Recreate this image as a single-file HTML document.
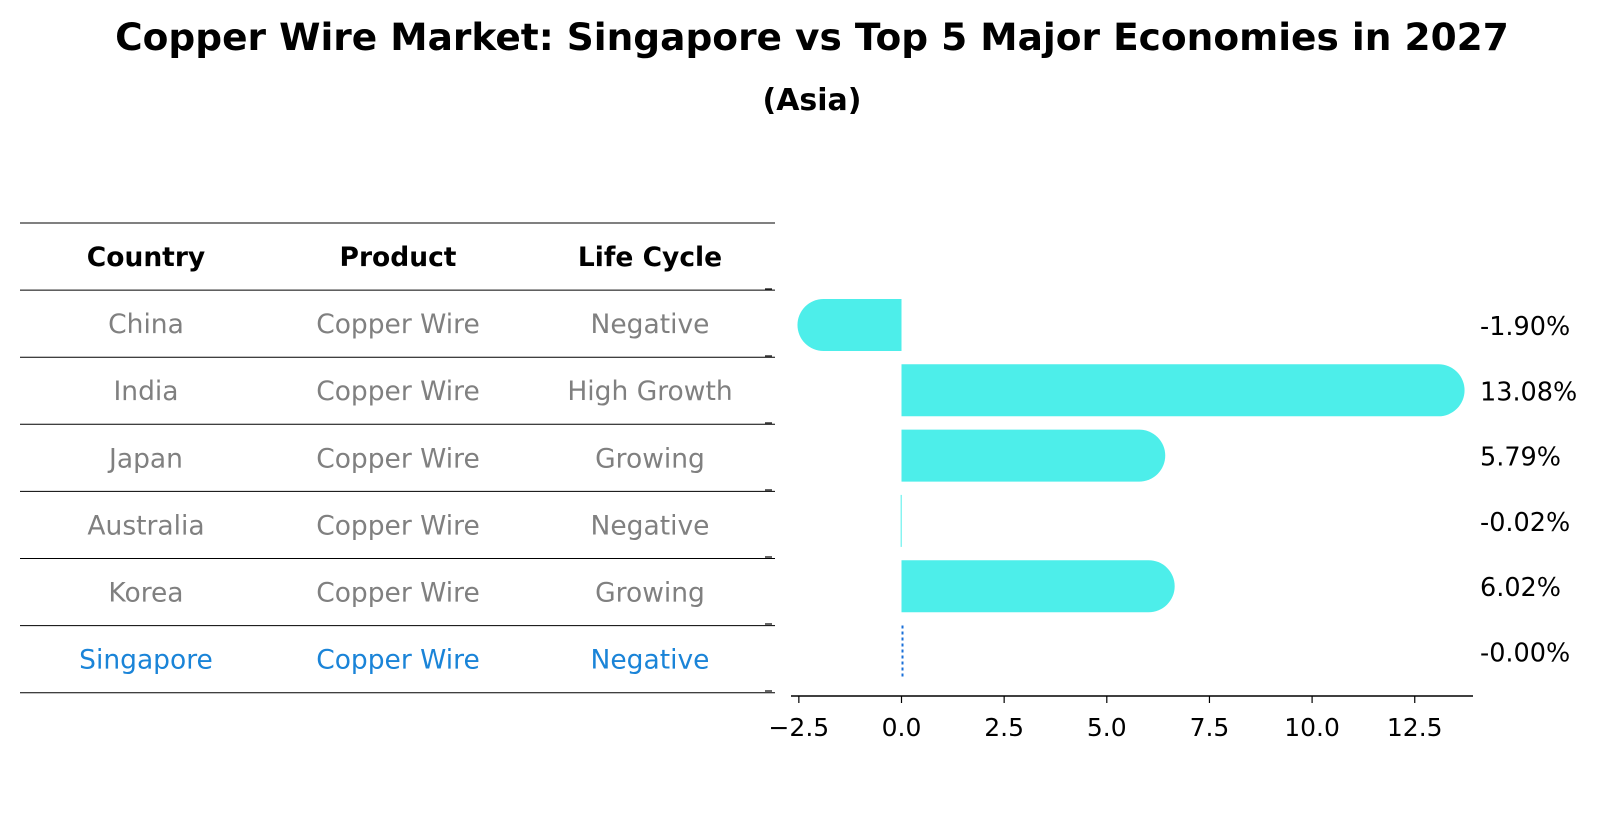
<!DOCTYPE html>
<html><head><meta charset="utf-8">
<style>
body{margin:0;background:#fff;font-family:"DejaVu Sans","Liberation Sans",sans-serif;}
svg text{font-family:"DejaVu Sans","Liberation Sans",sans-serif;}
</style></head>
<body>
<svg id="c" width="1604" height="823" xmlns="http://www.w3.org/2000/svg">
<text x="812" y="50" text-anchor="middle" font-size="37.5" font-weight="bold">Copper Wire Market: Singapore vs Top 5 Major Economies in 2027</text>
<text x="812" y="110" text-anchor="middle" font-size="30" font-weight="bold">(Asia)</text>
<g id="table"></g>
<g id="bars"></g>
</svg>
<script>
const countries=["China","India","Japan","Australia","Korea","Singapore"];
const products=["Copper Wire","Copper Wire","Copper Wire","Copper Wire","Copper Wire","Copper Wire"];
const lifecycle=["Negative","High Growth","Growing","Negative","Growing","Negative"];
const growth=[-1.90,13.08,5.79,-0.02,6.02,-0.00];
const xTicks=[-2.5,0,2.5,5,7.5,10,12.5];
const NS="http://www.w3.org/2000/svg";
function mk(tag,attrs,parent,txt){const e=document.createElementNS(NS,tag);for(const k in attrs)e.setAttribute(k,attrs[k]);if(txt!==undefined)e.textContent=txt;parent.appendChild(e);return e;}
const tbl=document.getElementById('table');
const rowY=i=>223+67.1*i;
for(let i=0;i<8;i++){const l=mk('line',{x1:20,x2:775,y1:rowY(i),y2:rowY(i),stroke:'#000','stroke-width':1},tbl);

}
const colX=[146,398,650];
["Country","Product","Life Cycle"].forEach((h,j)=>{const t=mk('text',{x:colX[j],y:rowY(0)+43,'text-anchor':'middle','font-size':26.5,'font-weight':'bold'},tbl,h);

});
countries.forEach((c,i)=>{const col=c==="Singapore"?'#1a84d8':'#808080';
[c,products[i],lifecycle[i]].forEach((v,j)=>{const t=mk('text',{x:colX[j],y:rowY(i+1)+43,'text-anchor':'middle','font-size':26.5,fill:col},tbl,v);

});});
const g=document.getElementById('bars');
const x0=901.5,ppu=41.06;
const X=v=>x0+v*ppu;
const Y=i=>325+65.3*i;
const h=52,r=26;
growth.forEach((v,i)=>{
 const y=Y(i)-h/2;let p;
 if(Math.abs(v)<0.01){
  p=mk('line',{x1:X(0)+1,x2:X(0)+1,y1:y,y2:y+h,stroke:'#1a6fd8','stroke-width':2,'stroke-dasharray':'3,3'},g);
 } else if(Math.abs(v)<0.5){
  p=mk('rect',{x:Math.min(X(v),X(0)),y:y,width:Math.max(1,Math.abs(X(v)-X(0))),height:h,fill:'#4deeea'},g);
 } else {
  const xe=X(v),xs=X(0);
  if(v>0){p=mk('path',{d:`M${xs},${y}H${xe}A${r},${r} 0 0 1 ${xe},${y+h}H${xs}Z`,fill:'#4deeea'},g);}
  else{p=mk('path',{d:`M${xs},${y}H${xe}A${r},${r} 0 0 0 ${xe},${y+h}H${xs}Z`,fill:'#4deeea'},g);}
 }
 
 
 const t=mk('text',{x:1480,y:Y(i)+10,'font-size':25.5},g,(v===0?'-0.00':v.toFixed(2))+'%');
 
 
});
for(let i=0;i<7;i++){const yt=mk('line',{x1:765,x2:772,y1:289+67*i,y2:289+67*i,stroke:'#000','stroke-width':1.2},g);

}
const ax=mk('line',{x1:791,x2:1473,y1:696,y2:696,stroke:'#000','stroke-width':1.5},g);


xTicks.forEach(v=>{const tk=mk('line',{x1:X(v),x2:X(v),y1:696,y2:703,stroke:'#000','stroke-width':1.2},g);


const t=mk('text',{x:X(v),y:736,'text-anchor':'middle','font-size':25},g,(v<0?'\u2212':'')+Math.abs(v).toFixed(1));

});
</script>
</body></html>
